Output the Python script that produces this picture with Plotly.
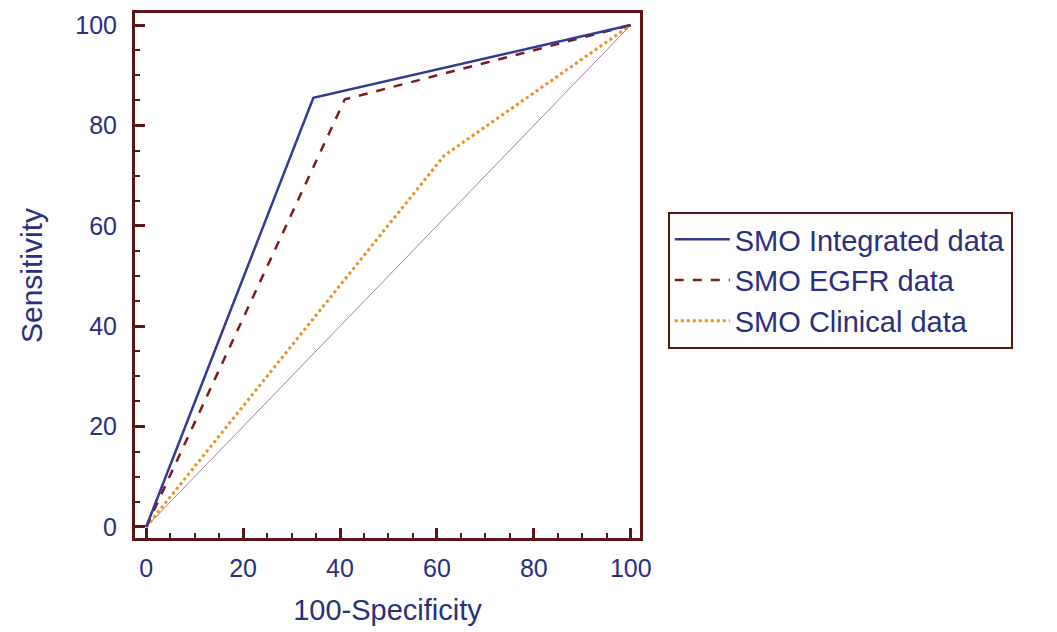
import plotly.graph_objects as go

# ROC data (100-Specificity, Sensitivity)
integrated_x = [0, 34.5, 100]
integrated_y = [0, 85.5, 100]
egfr_x = [0, 41, 100]
egfr_y = [0, 85.2, 100]
clinical_x = [0, 61.5, 100]
clinical_y = [0, 74, 100]
diag_x = [0, 100]
diag_y = [0, 100]

series_names = ["SMO Integrated data", "SMO EGFR data", "SMO Clinical data"]
tick_vals = [0, 20, 40, 60, 80, 100]

FRAME = "#5c1414"
NAVY = "#2b2f7c"
FONT = "Liberation Sans, Arial, sans-serif"

fig = go.Figure()
fig.add_trace(go.Scatter(x=diag_x, y=diag_y, mode="lines",
                         line=dict(color="#a08490", width=1), showlegend=False,
                         hoverinfo="skip"))
fig.add_trace(go.Scatter(x=clinical_x, y=clinical_y, mode="lines", name=series_names[2],
                         line=dict(color="#f0901e", width=3, dash="dot")))
fig.add_trace(go.Scatter(x=egfr_x, y=egfr_y, mode="lines", name=series_names[1],
                         line=dict(color="#7a1c1c", width=2.5, dash="dash")))
fig.add_trace(go.Scatter(x=integrated_x, y=integrated_y, mode="lines", name=series_names[0],
                         line=dict(color="#323a94", width=2.5)))

axis_common = dict(
    showgrid=False, zeroline=False,
    showline=True, linecolor=FRAME, linewidth=3, mirror=True,
    ticks="inside", ticklen=10, tickwidth=3, tickcolor=FRAME,
    tickvals=tick_vals,
    tickfont=dict(family=FONT, size=25, color=NAVY),
    minor=dict(ticks="inside", ticklen=5, tickwidth=2, tickcolor=FRAME, dtick=5),
)

fig.update_layout(
    width=1057, height=632,
    margin=dict(l=135, r=417, t=10, b=94),
    plot_bgcolor="white", paper_bgcolor="white",
    font=dict(family=FONT, color=NAVY),
    xaxis=dict(range=[-2.3, 101.9], title=dict(text="100-Specificity",
               font=dict(family=FONT, size=29, color=NAVY), standoff=19),
               ticklabelstandoff=6, **axis_common),
    yaxis=dict(range=[-2.2, 102.4], title=dict(text="Sensitivity",
               font=dict(family=FONT, size=30, color=NAVY), standoff=24),
               ticklabelstandoff=10, **axis_common),
    legend=dict(x=1.055, y=0.621, xanchor="left", yanchor="top",
                traceorder="reversed", itemwidth=55,
                bordercolor=FRAME, borderwidth=2, bgcolor="white",
                font=dict(family=FONT, size=29, color=NAVY)),
)

fig.write_html("out.html")
